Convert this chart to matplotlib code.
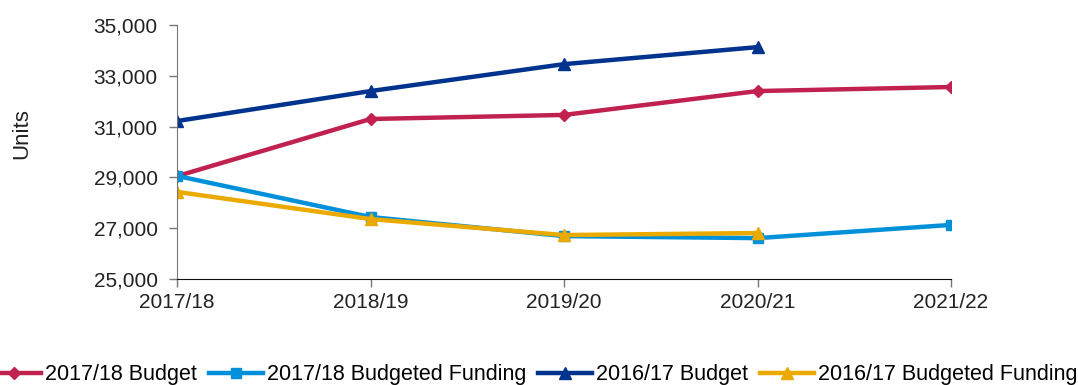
import matplotlib.pyplot as plt
from matplotlib.ticker import FuncFormatter

plt.rcParams['font.family'] = ['Liberation Sans', 'DejaVu Sans']

years = ['2017/18', '2018/19', '2019/20', '2020/21', '2021/22']
budget_1718 = [29050, 31300, 31460, 32400, 32560]
funding_1718 = [29060, 27440, 26690, 26610, 27130]
budget_1617 = [31220, 32400, 33460, 34130]
funding_1617 = [28430, 27360, 26730, 26810]

fig = plt.figure(figsize=(10.78, 3.85), dpi=100)
ax = fig.add_axes([0.1642, 0.2753, 0.718, 0.6597])

x = list(range(len(years)))
ax.plot(x, budget_1718, color='#C0214F', lw=3.2, marker='D', ms=6, label='2017/18 Budget')
ax.plot(x, funding_1718, color='#0091DA', lw=3.2, marker='s', ms=7, label='2017/18 Budgeted Funding')
ax.plot(x[:4], budget_1617, color='#00338D', lw=3.2, marker='^', ms=8, label='2016/17 Budget')
ax.plot(x[:4], funding_1617, color='#EAAA00', lw=3.2, marker='^', ms=8, label='2016/17 Budgeted Funding')

ax.set_xlim(0, 4)
ax.set_ylim(25000, 35000)
ax.set_yticks(range(25000, 35001, 2000))
ax.yaxis.set_major_formatter(FuncFormatter(lambda v, p: '{:,.0f}'.format(v)))
ax.set_xticks(x)
ax.set_xticklabels(years)
ax.tick_params(labelsize=15, length=6, width=1, color='#777777')
ax.tick_params(axis='x', colors='#777777', labelcolor='#222222', pad=4)
ax.tick_params(axis='y', labelcolor='#222222', pad=8)
ax.spines['top'].set_visible(False)
ax.spines['right'].set_visible(False)
ax.spines['left'].set_color('#777777')
ax.spines['bottom'].set_color('#111111')
ax.set_ylabel('Units', fontsize=16, color='#222222')
ax.yaxis.set_label_coords(-0.1875, 0.571)

fig.legend(loc='center', bbox_to_anchor=(0.494, 0.026), ncol=4, frameon=False,
           fontsize=15.5, handlelength=2.5, handletextpad=0.2, columnspacing=0.55,
           borderpad=0, borderaxespad=0)

fig.savefig('out.png', dpi=100)
